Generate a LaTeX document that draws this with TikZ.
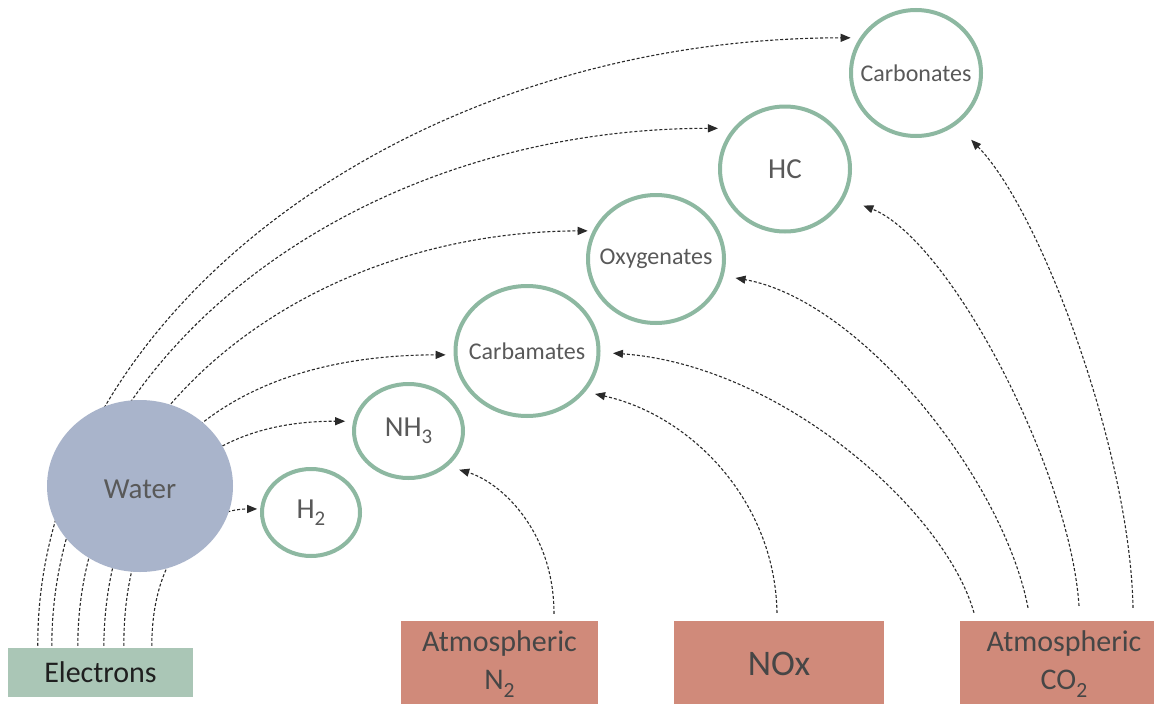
\documentclass[tikz,border=0pt]{standalone}
\usepackage{fontspec}
\setmainfont{Carlito}
\usetikzlibrary{arrows.meta,calc,shapes.geometric}
\pgfdeclarelayer{back}
\pgfdeclarelayer{bg}
\pgfsetlayers{back,bg,main}
\definecolor{sage}{HTML}{8DB8A1}
\definecolor{waterc}{HTML}{A9B4CB}
\definecolor{elecc}{HTML}{AAC6B6}
\definecolor{salmon}{HTML}{D08A7A}
\definecolor{txt}{HTML}{595959}
\definecolor{boxtxt}{HTML}{464646}
\definecolor{dashc}{HTML}{2A2A2A}
\newcommand{\chemsub}[1]{\raisebox{-0.25em}{\scalebox{0.72}{#1}}}
\begin{document}
\begin{tikzpicture}[x=1pt,y=-1pt,
  prod/.style={ellipse, draw=sage, line width=4pt, fill=white, inner sep=0pt},
  srcbox/.style={rectangle, fill=salmon, inner sep=0pt, text=boxtxt, align=center, minimum height=86pt},
  lab/.style={font=\fontsize{24}{28}\selectfont, text=txt},
  labbig/.style={font=\fontsize{29}{32}\selectfont, text=txt},
  flow/.style={draw=dashc, line width=1.1pt, dash pattern=on 3pt off 2pt, -{Triangle[length=10pt,width=8pt]}},
]
\useasboundingbox (0,0) rectangle (1154,704);
\begin{pgfonlayer}{back}
\fill[white] (0,0) rectangle (1154,704);
\end{pgfonlayer}

% products
\node[prod, minimum width=130pt, minimum height=126pt, label={[lab]center:Carbonates}] (carbonates) at (916,73) {};
\node[prod, minimum width=130pt, minimum height=125pt, label={[labbig]center:HC}] (hc) at (785,169) {};
\node[prod, minimum width=136pt, minimum height=128pt, label={[lab]center:Oxygenates}] (oxy) at (656,259) {};
\node[prod, minimum width=143pt, minimum height=130pt, label={[lab]center:Carbamates}] (carbam) at (527,351) {};
\node[prod, minimum width=109pt, minimum height=94pt, label={[labbig]center:NH\chemsub{3}}] (nh3) at (408.5,431) {};
\node[prod, minimum width=98pt, minimum height=87pt, label={[labbig]center:H\chemsub{2}}] (h2) at (311,512.5) {};

% water
\node[ellipse, fill=waterc, inner sep=0pt, minimum width=186pt, minimum height=172pt,
      label={[font=\fontsize{29}{32}\selectfont, text=txt, yshift=-3pt]center:Water}] (water) at (140,486) {};

% sources
\node[rectangle, fill=elecc, inner sep=0pt, minimum width=185pt, minimum height=49pt,
      font=\fontsize{30}{34}\selectfont, text=black!88] (el) at (100.5,672.5) {Electrons};
\node[srcbox, minimum width=197pt, font=\fontsize{30}{38}\selectfont] (n2) at (499.5,664) {Atmospheric\\N\chemsub{2}};
\node[srcbox, minimum width=210pt, font=\fontsize{36}{40}\selectfont] (nox) at (779,664) {NOx};
\node[srcbox, minimum width=208pt, font=\fontsize{30}{38}\selectfont] (co2) at (1064,664) {Atmospheric\\CO\chemsub{2}};
\begin{pgfonlayer}{back}
\fill[salmon] (n2.south west) rectangle ++(197,20);
\fill[salmon] (nox.south west) rectangle ++(210,20);
\fill[salmon] (co2.south west) rectangle ++(208,20);
\end{pgfonlayer}

% start points on source boxes
\coordinate (e1) at ($(el.north west)+(30,-2)$);
\coordinate (e2) at ($(el.north west)+(44,-2)$);
\coordinate (e3) at ($(el.north west)+(70,-2)$);
\coordinate (e4) at ($(el.north west)+(96,-2)$);
\coordinate (e5) at ($(el.north west)+(116,-2)$);
\coordinate (e6) at ($(el.north west)+(144,-2)$);
\coordinate (s1) at ($(n2.north)+(54.5,-7)$);
\coordinate (s2) at ($(nox.north)+(-2,-8)$);
\coordinate (c1) at ($(co2.north)+(-90,-8)$);
\coordinate (c2) at ($(co2.north)+(-36,-13)$);
\coordinate (c3) at ($(co2.north)+(15,-15)$);
\coordinate (c4) at ($(co2.north)+(69,-13)$);

\begin{pgfonlayer}{bg}
% electrons -> (through water) -> products
\draw[flow, shorten >=9pt] (e1) .. controls (36,320) and (403,38) .. (carbonates.148);
\draw[flow, shorten >=15pt] (e2) .. controls (52,361) and (352,128) .. (hc.142);
\draw[flow, shorten >=5pt] (e3) .. controls (78,410) and (307,232) .. (oxy.156);
\draw[flow, shorten >=8pt] (e4) .. controls (106,450) and (240,355) .. (carbam.183);
\draw[flow, shorten >=8pt] (e5) .. controls (124,488) and (212,421) .. (nh3.170);
\draw[flow, shorten >=3pt] (e6) .. controls (152,545) and (208,509) .. (h2.176);
% atmospheric sources
\draw[flow, shorten >=12pt] (s1) .. controls (554,530) and (500,482) .. (nh3.318);
\draw[flow, shorten >=10pt] (s2) .. controls (775,500) and (690,415) .. (carbam.325);
\draw[flow, shorten >=12.5pt] (c1) .. controls (945,510) and (780,365) .. (carbam.359);
\draw[flow, shorten >=12pt] (c2) .. controls (1003,478) and (860,300) .. (oxy.346);
\draw[flow, shorten >=20pt] (c3) .. controls (1070,470) and (950,240) .. (hc.334);
\draw[flow, shorten >=21pt] (c4) .. controls (1130,450) and (1040,210) .. (carbonates.308);
\end{pgfonlayer}
\end{tikzpicture}
\end{document}
